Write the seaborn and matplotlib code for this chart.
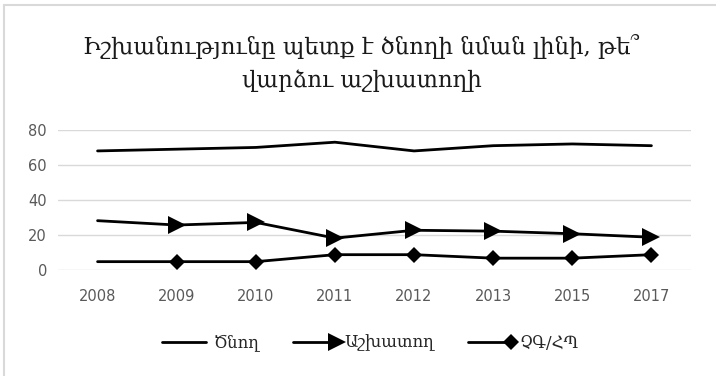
import matplotlib
matplotlib.use("Agg")
import matplotlib.pyplot as plt
from matplotlib.lines import Line2D
from matplotlib.legend_handler import HandlerLine2D
import seaborn as sns
import pandas as pd

years = ["2008", "2009", "2010", "2011", "2012", "2013", "2015", "2017"]
parent = [68, 69, 70, 73, 68, 71, 72, 71]
employee = [28, 25.5, 27, 18, 22.5, 22, 20.5, 18.5]
dk_na = [4.5, 4.5, 4.5, 8.5, 8.5, 6.5, 6.5, 8.5]
series_names = ["Ծնող", "Աշխատող", "ՉԳ/ՀՊ"]
title = "Իշխանությունը պետք է ծնողի նման լինի, թե՞\nվարձու աշխատողի"
yticks = [0, 20, 40, 60, 80]

sns.set_theme(style="white")
plt.rcParams["font.family"] = ["DejaVu Sans"]

fig = plt.figure(figsize=(7.16, 3.76), dpi=100)
ax = fig.add_axes([58 / 716, 1 - 269.5 / 376, (691 - 58) / 716, (269.5 - 130) / 376])

df = pd.DataFrame({"year": years, series_names[0]: parent,
                   series_names[1]: employee, series_names[2]: dk_na})

n = len(years)
sns.lineplot(data=df, x="year", y=series_names[0], ax=ax, color="black",
             linewidth=2, sort=False)
sns.lineplot(data=df, x="year", y=series_names[1], ax=ax, color="black",
             linewidth=2, sort=False, marker=">", markersize=13,
             markevery=list(range(1, n)), markeredgewidth=0)
sns.lineplot(data=df, x="year", y=series_names[2], ax=ax, color="black",
             linewidth=2, sort=False, marker="D", markersize=8,
             markevery=list(range(1, n)), markeredgewidth=0)

ax.set_xlim(-0.5, n - 0.5)
ax.set_ylim(0, 80)
ax.set_yticks(yticks)
ax.set_xlabel("")
ax.set_ylabel("")
ax.yaxis.grid(True, color="#d9d9d9", linewidth=1)
ax.set_axisbelow(True)
for s in ax.spines.values():
    s.set_visible(False)
ax.tick_params(axis="both", length=0, labelsize=10.5, labelcolor="#595959")
ax.tick_params(axis="x", pad=14)
ax.tick_params(axis="y", pad=8)

fig.text(0.505, 1 - 63 / 376, title, ha="center", va="center",
         fontsize=16.5, family=["DejaVu Serif"], color="#1a1a1a",
         linespacing=1.55)


class EndMarkerHandler(HandlerLine2D):
    def create_artists(self, *args, **kwargs):
        artists = super().create_artists(*args, **kwargs)
        for a in artists:
            if isinstance(a, Line2D) and a.get_marker() not in (None, "None", ""):
                a.set_markevery([len(a.get_xdata()) - 1])
        return artists


handles = [
    Line2D([0], [0], color="black", linewidth=2),
    Line2D([0], [0], color="black", linewidth=2, marker=">", markersize=13,
           markeredgewidth=0),
    Line2D([0], [0], color="black", linewidth=2, marker="D", markersize=8,
           markeredgewidth=0),
]
fig.legend(handles, series_names, loc="center", bbox_to_anchor=(0.514, 1 - 343 / 376),
           ncol=3, frameon=False, numpoints=2, handlelength=3.2,
           handletextpad=0.2, columnspacing=1.7,
           handler_map={Line2D: EndMarkerHandler()},
           prop={"family": "DejaVu Serif", "size": 12})

fig.add_artist(Line2D([4 / 716, 4 / 716], [0, 1 - 5 / 376], color="#d9d9d9",
                      linewidth=1.5, transform=fig.transFigure))
fig.add_artist(Line2D([4 / 716, 1], [1 - 5 / 376, 1 - 5 / 376], color="#d9d9d9",
                      linewidth=1.5, transform=fig.transFigure))

fig.savefig("out.png", dpi=100)
